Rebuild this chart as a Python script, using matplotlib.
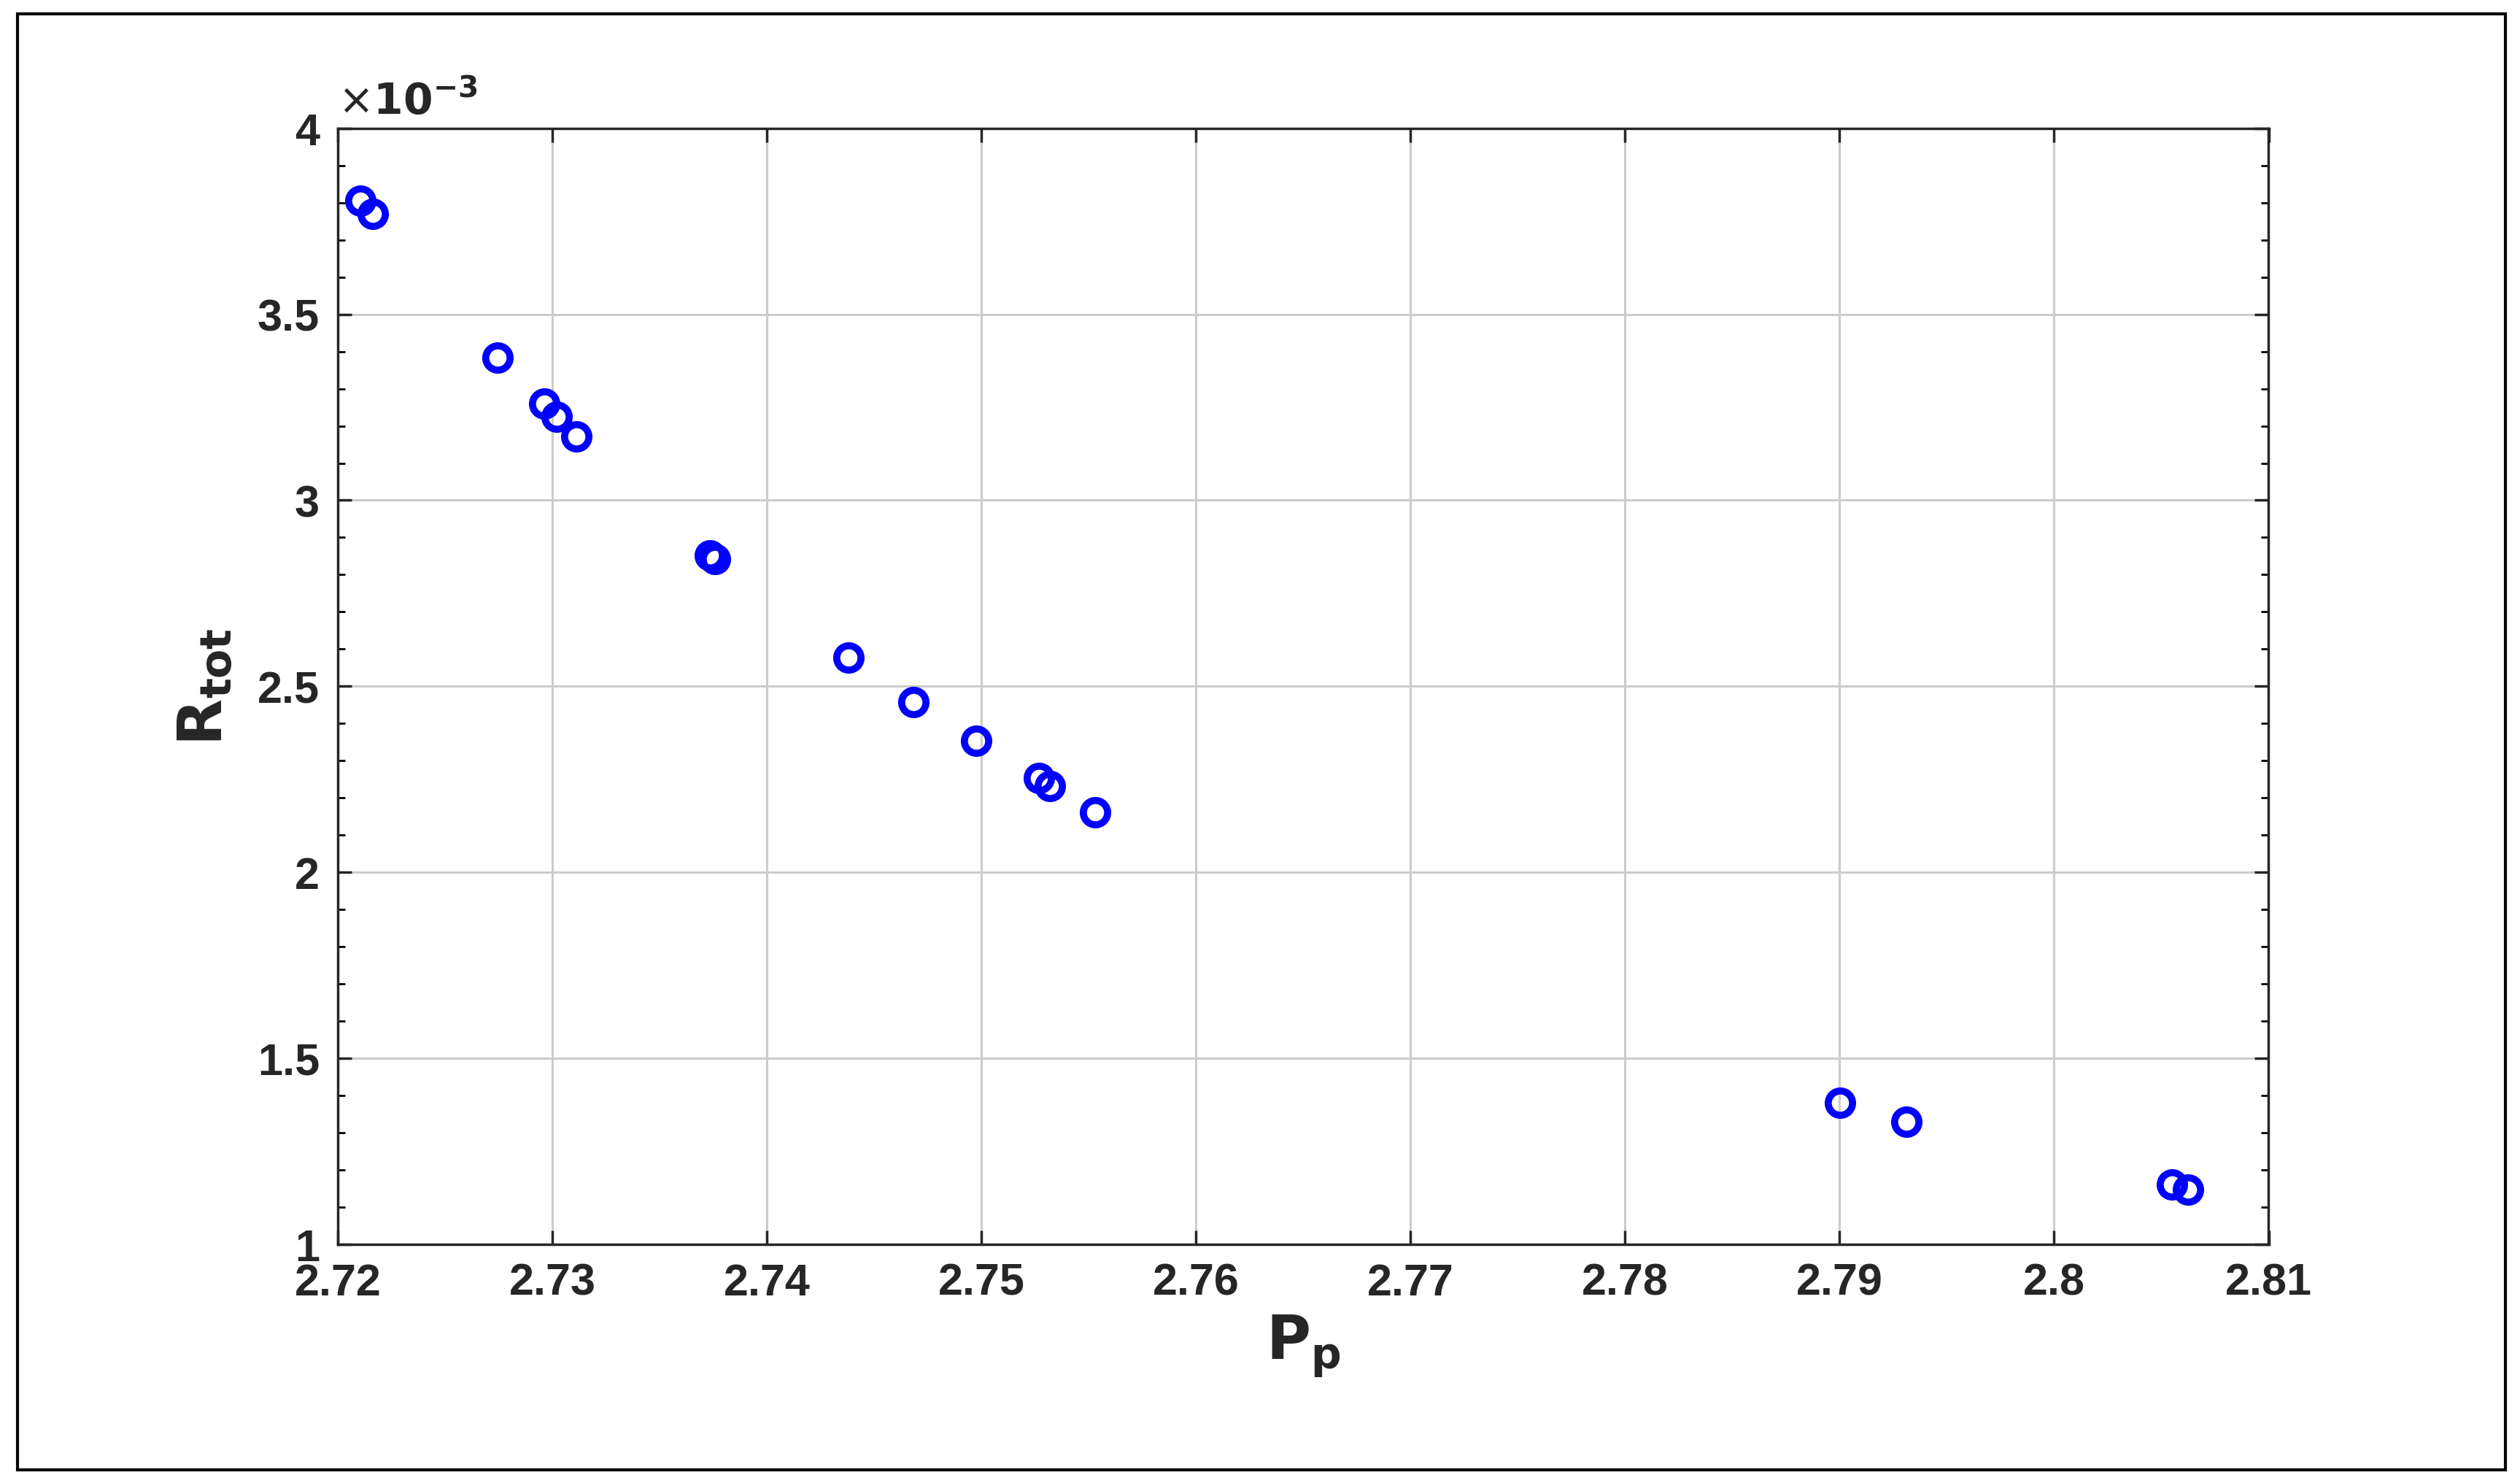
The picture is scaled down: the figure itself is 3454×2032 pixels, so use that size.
import matplotlib
matplotlib.use("Agg")
import matplotlib.pyplot as plt
from matplotlib.patches import Rectangle
from matplotlib.ticker import MultipleLocator

pp = [2.72105, 2.72165, 2.72744, 2.72962, 2.73022, 2.73112, 2.73735, 2.73758, 2.74381,
      2.74682, 2.74975, 2.75268, 2.75320, 2.75531, 2.79002, 2.79310, 2.80549, 2.80625]
rtot = [3.805, 3.770, 3.384, 3.259, 3.224, 3.172, 2.851, 2.842, 2.578,
        2.457, 2.353, 2.253, 2.231, 2.162, 1.381, 1.329, 1.160, 1.147]
xticks = [2.72, 2.73, 2.74, 2.75, 2.76, 2.77, 2.78, 2.79, 2.8, 2.81]
xticklabels = ["2.72", "2.73", "2.74", "2.75", "2.76", "2.77", "2.78", "2.79", "2.8", "2.81"]
yticks = [1, 1.5, 2, 2.5, 3, 3.5, 4]
yticklabels = ["1", "1.5", "2", "2.5", "3", "3.5", "4"]

plt.rcParams['font.family'] = ['Liberation Sans', 'DejaVu Sans']
fig = plt.figure(figsize=(34.55, 20.33), dpi=100)
fig.patches.append(Rectangle((0.007, 0.009), 0.987, 0.981, transform=fig.transFigure,
                             fill=False, edgecolor='black', linewidth=3))
ax = fig.add_axes([0.134, 0.161, 0.766, 0.752])
ax.plot(pp, rtot, 'o', markersize=24, markerfacecolor='none', markeredgecolor='#0000ff',
        markeredgewidth=7, linestyle='none')
ax.set_xlim(2.72, 2.81)
ax.set_ylim(1, 4)
ax.set_xticks(xticks)
ax.set_xticklabels(xticklabels)
ax.set_yticks(yticks)
ax.set_yticklabels(yticklabels)
ax.yaxis.set_minor_locator(MultipleLocator(0.1))
ax.grid(True, color='#cccccc', linewidth=2.2)
ax.set_axisbelow(True)
for s in ax.spines.values():
    s.set_linewidth(2.5)
    s.set_color('#262626')
ax.tick_params(which='major', direction='in', length=14, width=2.5, labelsize=44,
               colors='#262626', pad=18, top=True, right=True)
ax.tick_params(which='minor', direction='in', length=7, width=2, top=False, right=True)
for lab in ax.get_xticklabels() + ax.get_yticklabels():
    lab.set_fontweight('bold')
ax.set_xlabel(r'$\mathbf{P_p}$', fontsize=60, color='#262626', labelpad=8)
ax.set_ylabel(r'$\mathbf{R_{tot}}$', fontsize=60, color='#262626', labelpad=22)
ax.text(0.0, 1.005, r'$\times\mathbf{10^{-3}}$', transform=ax.transAxes, fontsize=42,
        color='#262626', ha='left', va='bottom')
fig.savefig("out.png", dpi=100)
